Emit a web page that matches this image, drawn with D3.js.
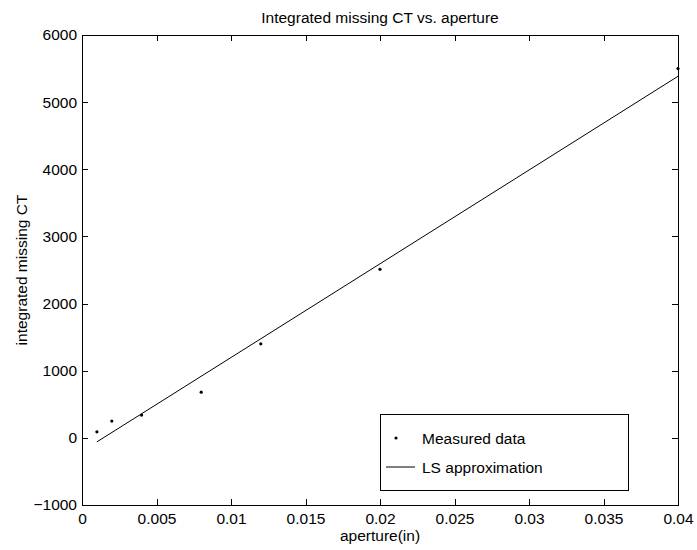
<!DOCTYPE html>
<meta charset="utf-8">
<style>
body { margin: 0; background: #fff; }
svg text { font-family: "Liberation Sans", Arial, sans-serif; fill: #000; }
.axis path, .axis line { fill: none; stroke: #000; shape-rendering: crispEdges; }
.axis text { font-size: 15.5px; }
</style>
<body>
<script src="https://d3js.org/d3.v7.min.js"></script>
<script>
// measured points
var aperture = [0.001, 0.002, 0.004, 0.008, 0.012, 0.02, 0.04];
var missingCT = [90, 250, 340, 680, 1400, 2510, 5500];
// least squares line, read at both ends
var lsX = [0.001, 0.04];
var lsY = [-60, 5385];
var xTicks = [0, 0.005, 0.01, 0.015, 0.02, 0.025, 0.03, 0.035, 0.04];
var yTicks = [-1000, 0, 1000, 2000, 3000, 4000, 5000, 6000];

var margin = {top: 35, right: 19, bottom: 45, left: 82},
    width = 697 - margin.left - margin.right,
    height = 550 - margin.top - margin.bottom;

var svg = d3.select("body").append("svg")
    .attr("width", 697)
    .attr("height", 550);

var chart = svg.append("g")
    .attr("transform", "translate(" + margin.left + "," + margin.top + ")");

var x = d3.scaleLinear().domain([0, 0.04]).range([0, width]);
var y = d3.scaleLinear().domain([-1000, 6000]).range([height, 0]);

var fmtX = function(d) { return d === 0 ? "0" : String(+d.toFixed(3)); };
var fmtY = function(d) { return d < 0 ? "\u2212" + Math.abs(d) : String(d); };

// ticks point inward like matlab
chart.append("g").attr("class", "x axis")
    .attr("transform", "translate(0," + height + ")")
    .call(d3.axisBottom(x).tickValues(xTicks).tickFormat(fmtX).tickSizeInner(-6).tickSizeOuter(0).tickPadding(8));
chart.append("g").attr("class", "x axis")
    .call(d3.axisTop(x).tickValues(xTicks).tickFormat("").tickSizeInner(-6).tickSizeOuter(0));
chart.append("g").attr("class", "y axis")
    .call(d3.axisLeft(y).tickValues(yTicks).tickFormat(fmtY).tickSizeInner(-6).tickSizeOuter(0).tickPadding(5));
chart.append("g").attr("class", "y axis")
    .attr("transform", "translate(" + width + ",0)")
    .call(d3.axisRight(y).tickValues(yTicks).tickFormat("").tickSizeInner(-6).tickSizeOuter(0));

chart.append("rect")
    .attr("width", width).attr("height", height)
    .attr("fill", "none").attr("stroke", "#000").attr("stroke-width", 1)
    .attr("shape-rendering", "crispEdges");

var line = d3.line()
    .x(function(d) { return x(d[0]); })
    .y(function(d) { return y(d[1]); });

chart.append("path")
    .datum(d3.zip(lsX, lsY))
    .attr("d", line)
    .attr("fill", "none").attr("stroke", "#000").attr("stroke-width", 1);

chart.selectAll(".dot")
    .data(d3.zip(aperture, missingCT))
  .enter().append("circle")
    .attr("class", "dot")
    .attr("cx", function(d) { return x(d[0]); })
    .attr("cy", function(d) { return y(d[1]); })
    .attr("r", 1.6)
    .attr("fill", "#000");

// title and labels
svg.append("text")
    .attr("x", margin.left + width / 2).attr("y", 23)
    .attr("text-anchor", "middle").style("font-size", "15.5px")
    .text("Integrated missing CT vs. aperture");

svg.append("text")
    .attr("x", margin.left + width / 2).attr("y", 541)
    .attr("text-anchor", "middle").style("font-size", "15.5px")
    .text("aperture(in)");

svg.append("text")
    .attr("transform", "translate(27," + (margin.top + height / 2) + ") rotate(-90)")
    .attr("text-anchor", "middle").style("font-size", "15.5px")
    .text("integrated missing CT");

// legend
var leg = svg.append("g").attr("transform", "translate(380,414)");
leg.append("rect")
    .attr("width", 248).attr("height", 76)
    .attr("fill", "#fff").attr("stroke", "#000").attr("shape-rendering", "crispEdges");
leg.append("circle").attr("cx", 16).attr("cy", 24).attr("r", 1.6).attr("fill", "#000");
leg.append("text").attr("x", 42).attr("y", 30).style("font-size", "15.5px").text("Measured data");
leg.append("line").attr("x1", 6).attr("x2", 35).attr("y1", 53).attr("y2", 53).attr("stroke", "#000");
leg.append("text").attr("x", 42).attr("y", 59).style("font-size", "15.5px").text("LS approximation");
</script>
</body>
